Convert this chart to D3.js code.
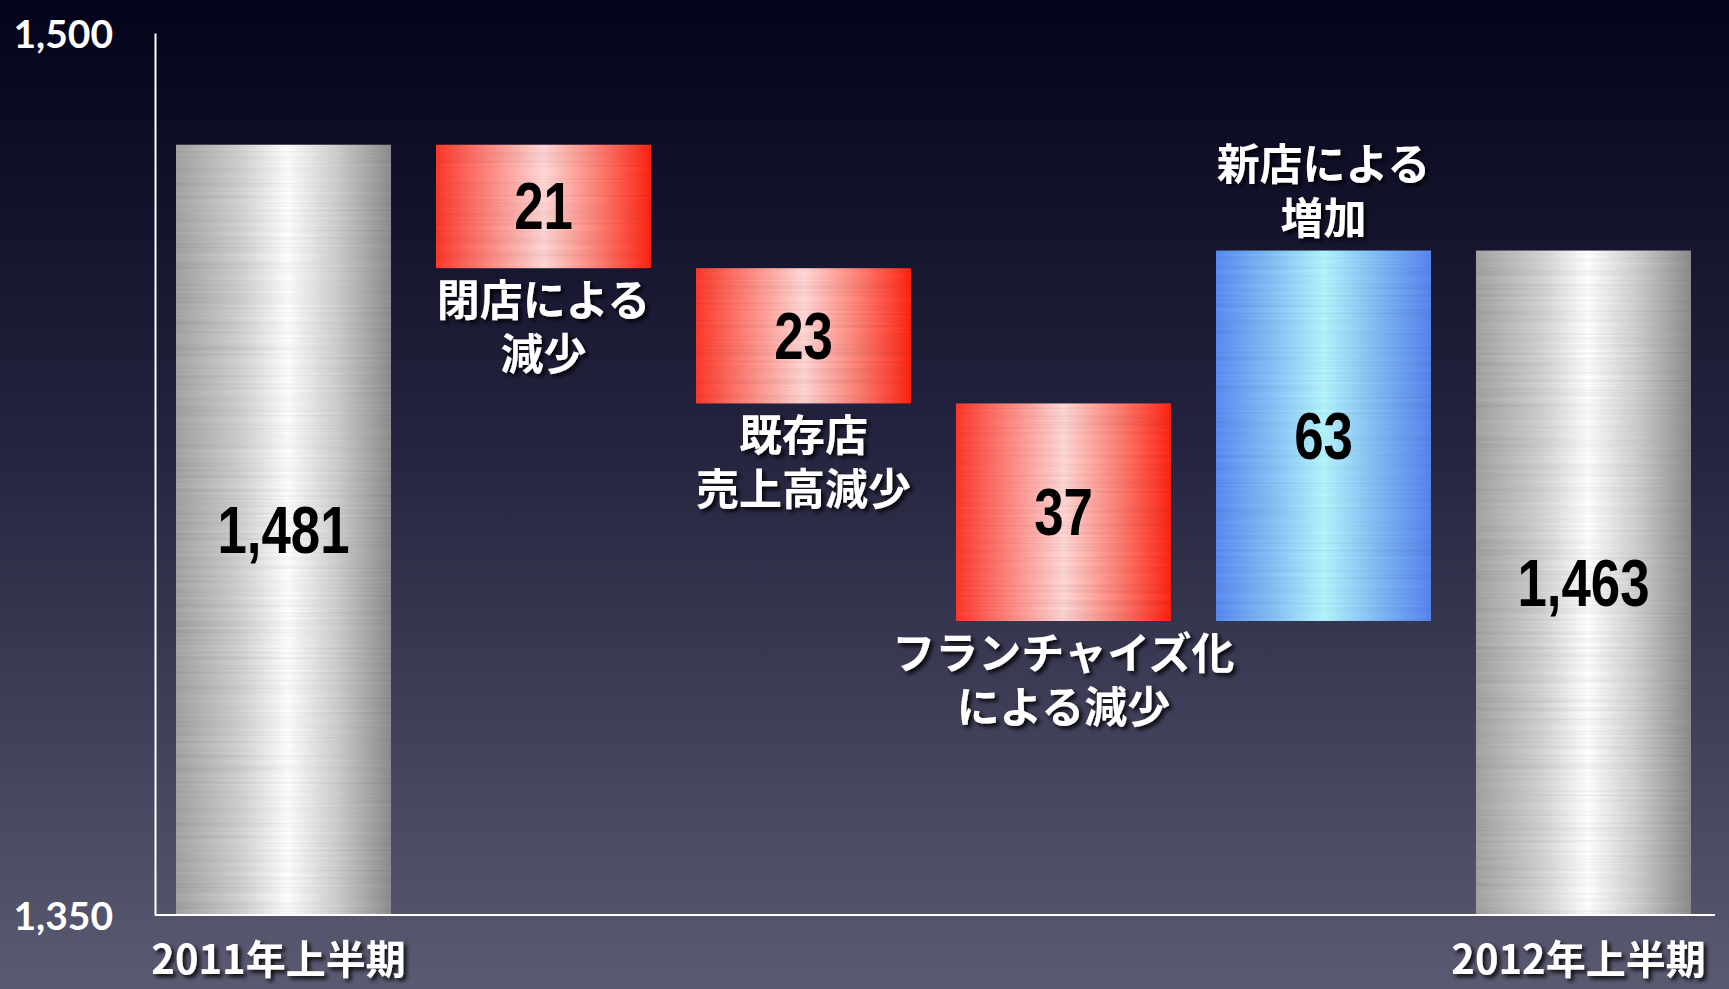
<!DOCTYPE html>
<html>
<head>
<meta charset="utf-8">
<script src="https://cdn.jsdelivr.net/npm/d3@7"></script>
<style>
  html, body { margin: 0; padding: 0; background: #000; overflow: hidden; }
</style>
</head>
<body>
<div id="chart"></div>
<script>
// store counts, first half 2011 -> first half 2012
const categories = ['2011年上半期', '閉店による減少', '既存店売上高減少', 'フランチャイズ化による減少', '新店による増加', '2012年上半期'];
const values = [1481, -21, -23, -37, 63, 1463];
const kinds = ['total', 'down', 'down', 'down', 'up', 'total'];
const barLabels = [[], ['閉店による', '減少'], ['既存店', '売上高減少'], ['フランチャイズ化', 'による減少'], ['新店による', '増加'], []];
const yTicks = [1350, 1500];

const W = 1729, H = 989;
const plot = { left: 155, right: 1715, top: 33, bottom: 915 };

// running totals for the waterfall
let run = 0;
const bars = categories.map((c, i) => {
    let start, end;
    if (kinds[i] === 'total') { start = 1350; end = values[i]; run = values[i]; }
    else { start = run; end = run + values[i]; run = end; }
    return { cat: c, value: values[i], kind: kinds[i], start, end, lines: barLabels[i] };
});

const x = d3.scaleBand().domain(categories).range([176, 1691]).paddingInner(0.173).paddingOuter(0);
const y = d3.scaleLinear().domain([1350, 1500]).range([plot.bottom, plot.top]);

const svg = d3.select('#chart').append('svg')
    .attr('width', W).attr('height', H);

const defs = svg.append('defs');

const bg = defs.append('linearGradient').attr('id', 'bg')
    .attr('x1', 0).attr('y1', 0).attr('x2', 0).attr('y2', 1);
bg.append('stop').attr('offset', '0%').attr('stop-color', '#03031a');
bg.append('stop').attr('offset', '45%').attr('stop-color', '#242440');
bg.append('stop').attr('offset', '100%').attr('stop-color', '#5a5a72');

function hGrad(id, stops) {
    const g = defs.append('linearGradient').attr('id', id)
        .attr('x1', 0).attr('y1', 0).attr('x2', 1).attr('y2', 0);
    stops.forEach(s => g.append('stop').attr('offset', s[0]).attr('stop-color', s[1]));
}
hGrad('fill-total', [['0%', '#a4a4a4'], ['30%', '#d2d2d2'], ['52%', '#ffffff'], ['75%', '#cfcfcf'], ['100%', '#8e8e8e']]);
hGrad('fill-down', [['0%', '#ff3a2c'], ['25%', '#ff8a82'], ['50%', '#ffd8d6'], ['75%', '#ff8276'], ['100%', '#ff2616']]);
hGrad('fill-up', [['0%', '#5b8cf4'], ['25%', '#84c0f8'], ['50%', '#b6f6ff'], ['75%', '#82bcf7'], ['100%', '#5885f0']]);

// brushed metal streaks, kept faint
const brush = defs.append('filter').attr('id', 'brush')
    .attr('x', 0).attr('y', 0).attr('width', 1).attr('height', 1);
brush.append('feTurbulence').attr('type', 'fractalNoise')
    .attr('baseFrequency', '0.003 0.4').attr('numOctaves', 2).attr('seed', 4).attr('result', 'n');
brush.append('feColorMatrix').attr('in', 'n').attr('type', 'matrix')
    .attr('values', '0 0 0 0 0  0 0 0 0 0  0 0 0 0 0  0.3 0 0 0 -0.1').attr('result', 'a');
brush.append('feComposite').attr('in', 'a').attr('in2', 'SourceGraphic').attr('operator', 'in').attr('result', 't');
const bm = brush.append('feMerge');
bm.append('feMergeNode').attr('in', 'SourceGraphic');
bm.append('feMergeNode').attr('in', 't');

const shadow = defs.append('filter').attr('id', 'shadow')
    .attr('x', '-10%').attr('y', '-30%').attr('width', '130%').attr('height', '160%');
shadow.append('feDropShadow').attr('dx', 3).attr('dy', 3).attr('stdDeviation', 2)
    .attr('flood-color', '#000').attr('flood-opacity', 0.85);

svg.append('rect').attr('width', W).attr('height', H).attr('fill', 'url(#bg)');

// bars
svg.append('g').selectAll('rect')
    .data(bars)
    .join('rect')
    .attr('x', d => x(d.cat))
    .attr('width', x.bandwidth())
    .attr('y', d => y(Math.max(d.start, d.end)))
    .attr('height', d => Math.abs(y(d.start) - y(d.end)))
    .attr('fill', d => `url(#fill-${d.kind})`)
    .attr('filter', 'url(#brush)');

// axes
const yAxis = svg.append('g')
    .attr('transform', `translate(${plot.left},0)`)
    .call(d3.axisLeft(y).tickValues(yTicks).tickSize(0).tickSizeOuter(0).tickPadding(42).tickFormat(d3.format(',')));
yAxis.select('.domain').attr('stroke', '#fff').attr('stroke-width', 2);
yAxis.selectAll('text')
    .attr('fill', '#fff')
    .attr('font-family', 'Lato, "Open Sans", sans-serif')
    .attr('font-weight', 'bold')
    .attr('font-size', 39)
    .attr('dy', '0.38em');

svg.append('line')
    .attr('x1', plot.left).attr('x2', plot.right)
    .attr('y1', y(1350)).attr('y2', y(1350))
    .attr('stroke', '#fff').attr('stroke-width', 2);

// values inside bars, condensed by a horizontal squeeze
svg.append('g').selectAll('text')
    .data(bars)
    .join('text')
    .attr('transform', d => `translate(${x(d.cat) + x.bandwidth() / 2},${(y(d.start) + y(d.end)) / 2 + 23}) scale(0.8,1)`)
    .attr('text-anchor', 'middle')
    .attr('font-family', '"Liberation Sans", Arial, sans-serif')
    .attr('font-weight', 'bold')
    .attr('font-size', 66)
    .attr('fill', '#000')
    .text(d => d3.format(',')(Math.abs(d.value)));

const jpFont = '"Noto Sans CJK JP", "Noto Sans", sans-serif';

// step labels, below the falling bars and above the rising one
const lab = svg.append('g').attr('filter', 'url(#shadow)');
const steps = bars.filter(d => d.kind !== 'total');
lab.selectAll('text.step')
    .data(steps)
    .join('text')
    .attr('class', 'step')
    .attr('text-anchor', 'middle')
    .attr('font-family', jpFont)
    .attr('font-weight', 'bold')
    .attr('font-size', 43)
    .attr('fill', '#fff')
    .each(function(d) {
        const cx = x(d.cat) + x.bandwidth() / 2;
        const first = d.kind === 'down'
            ? y(d.end) + 48
            : y(d.end) - 18 - (d.lines.length - 1) * 53;
        d3.select(this).selectAll('tspan')
            .data(d.lines)
            .join('tspan')
            .attr('x', cx)
            .attr('y', (l, j) => first + j * 54)
            .text(l => l);
    });

// period labels under the axis
lab.selectAll('text.period')
    .data(bars.filter(d => d.kind === 'total'))
    .join('text')
    .attr('class', 'period')
    .attr('x', d => x(d.cat) + x.bandwidth() / 2 - 5)
    .attr('y', 974)
    .attr('text-anchor', 'middle')
    .attr('font-family', jpFont)
    .attr('font-weight', 'bold')
    .attr('font-size', 40)
    .attr('fill', '#fff')
    .text(d => d.cat);
</script>
</body>
</html>
